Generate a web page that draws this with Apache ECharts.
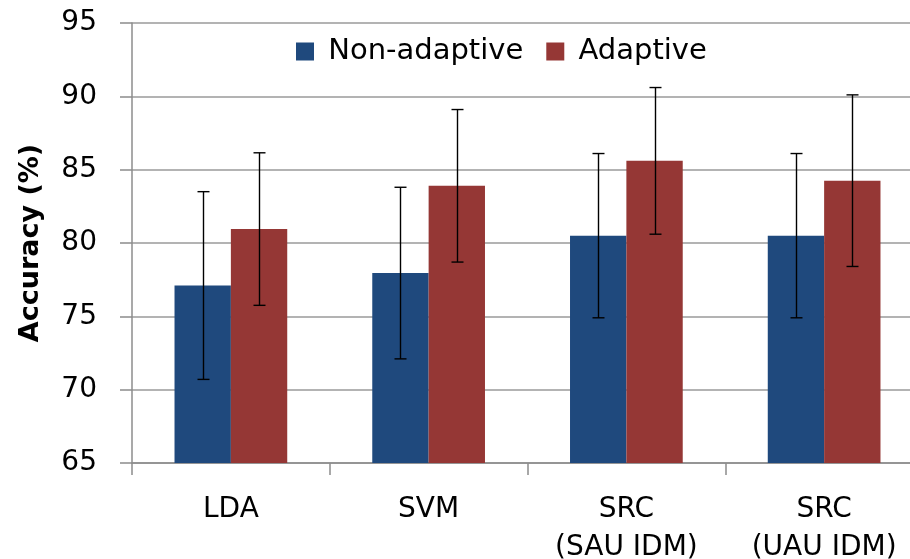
<!DOCTYPE html>
<html>
<head>
<meta charset="utf-8">
<script src="https://cdn.jsdelivr.net/npm/echarts@6/dist/echarts.min.js"></script>
<style>html,body{margin:0;padding:0;background:#fff;}#c{width:910px;height:559px;}</style>
</head>
<body>
<div id="c"></div>
<script>
const categories = ['LDA', 'SVM', 'SRC\n(SAU IDM)', 'SRC\n(UAU IDM)'];
const seriesNames = ['Non-adaptive', 'Adaptive'];
const nonAdaptive = [77.1, 77.95, 80.5, 80.5];
const adaptive = [80.95, 83.9, 85.6, 84.25];
const nonAdaptiveErr = [6.4, 5.85, 5.6, 5.6];
const adaptiveErr = [5.2, 5.2, 5.0, 5.85];
const yTicks = [65, 70, 75, 80, 85, 90, 95];

const FONT = 'DejaVu Sans';
const colors = ['#1F497D', '#953735'];
const CAT_GAP = 0.43;

function errSeries(values, errs, sign) {
  return {
    type: 'custom',
    z: 10,
    silent: true,
    renderItem: function (params, api) {
      const xi = api.value(0), v = api.value(1), e = api.value(2);
      const band = api.size([1, 0])[0];
      const barW = band * (1 - CAT_GAP) / 2;
      const top = api.coord([xi, v + e]);
      const bot = api.coord([xi, v - e]);
      const x = Math.round(top[0] + sign * barW / 2) + 0.5;
      const hw = 6;
      const st = { stroke: '#000', lineWidth: 1.4 };
      return {
        type: 'group',
        children: [
          { type: 'line', shape: { x1: x, y1: top[1], x2: x, y2: bot[1] }, style: st },
          { type: 'line', shape: { x1: x - hw, y1: top[1], x2: x + hw, y2: top[1] }, style: st },
          { type: 'line', shape: { x1: x - hw, y1: bot[1], x2: x + hw, y2: bot[1] }, style: st }
        ]
      };
    },
    data: values.map((v, i) => [i, v, errs[i]])
  };
}

const chart = echarts.init(document.getElementById('c'), null, { renderer: 'canvas' });
chart.setOption({
  animation: false,
  backgroundColor: '#fff',
  textStyle: { fontFamily: FONT },
  grid: { left: 132, top: 23, bottom: 96, right: -13, containLabel: false, outerBoundsMode: 'none' },
  legend: {
    data: seriesNames,
    left: 296, top: 37,
    itemWidth: 18, itemHeight: 18, itemGap: 23,
    icon: 'rect',
    padding: 0,
    formatter: n => ' ' + n,
    textStyle: { fontFamily: FONT, fontSize: 29, color: '#000' }
  },
  xAxis: {
    type: 'category',
    data: categories,
    axisLine: { lineStyle: { color: '#8c8c8c', width: 1.5 } },
    axisTick: { show: true, length: 12, lineStyle: { color: '#8c8c8c', width: 1.5 } },
    axisLabel: { fontFamily: FONT, fontSize: 28, color: '#000', margin: 28, lineHeight: 38, interval: 0 }
  },
  yAxis: {
    type: 'value',
    min: yTicks[0], max: yTicks[yTicks.length - 1], interval: 5,
    name: 'Accuracy (%)',
    nameLocation: 'middle',
    nameGap: 88,
    nameRotate: 90,
    nameTextStyle: { fontFamily: FONT, fontSize: 27, fontWeight: 'bold', color: '#000' },
    axisLine: { show: true, lineStyle: { color: '#8c8c8c', width: 1.5 } },
    axisTick: { show: true, length: 12, lineStyle: { color: '#8c8c8c', width: 1.5 } },
    axisLabel: { fontFamily: FONT, fontSize: 28, color: '#000', margin: 35 },
    splitLine: { show: true, lineStyle: { color: '#9a9a9a', width: 1.5 } }
  },
  series: [
    { name: seriesNames[0], type: 'bar', data: nonAdaptive, itemStyle: { color: colors[0] }, barGap: '0%', barCategoryGap: (CAT_GAP * 100) + '%' },
    { name: seriesNames[1], type: 'bar', data: adaptive, itemStyle: { color: colors[1] }, barGap: '0%', barCategoryGap: (CAT_GAP * 100) + '%' },
    errSeries(nonAdaptive, nonAdaptiveErr, -1),
    errSeries(adaptive, adaptiveErr, 1)
  ]
});
</script>
</body>
</html>
